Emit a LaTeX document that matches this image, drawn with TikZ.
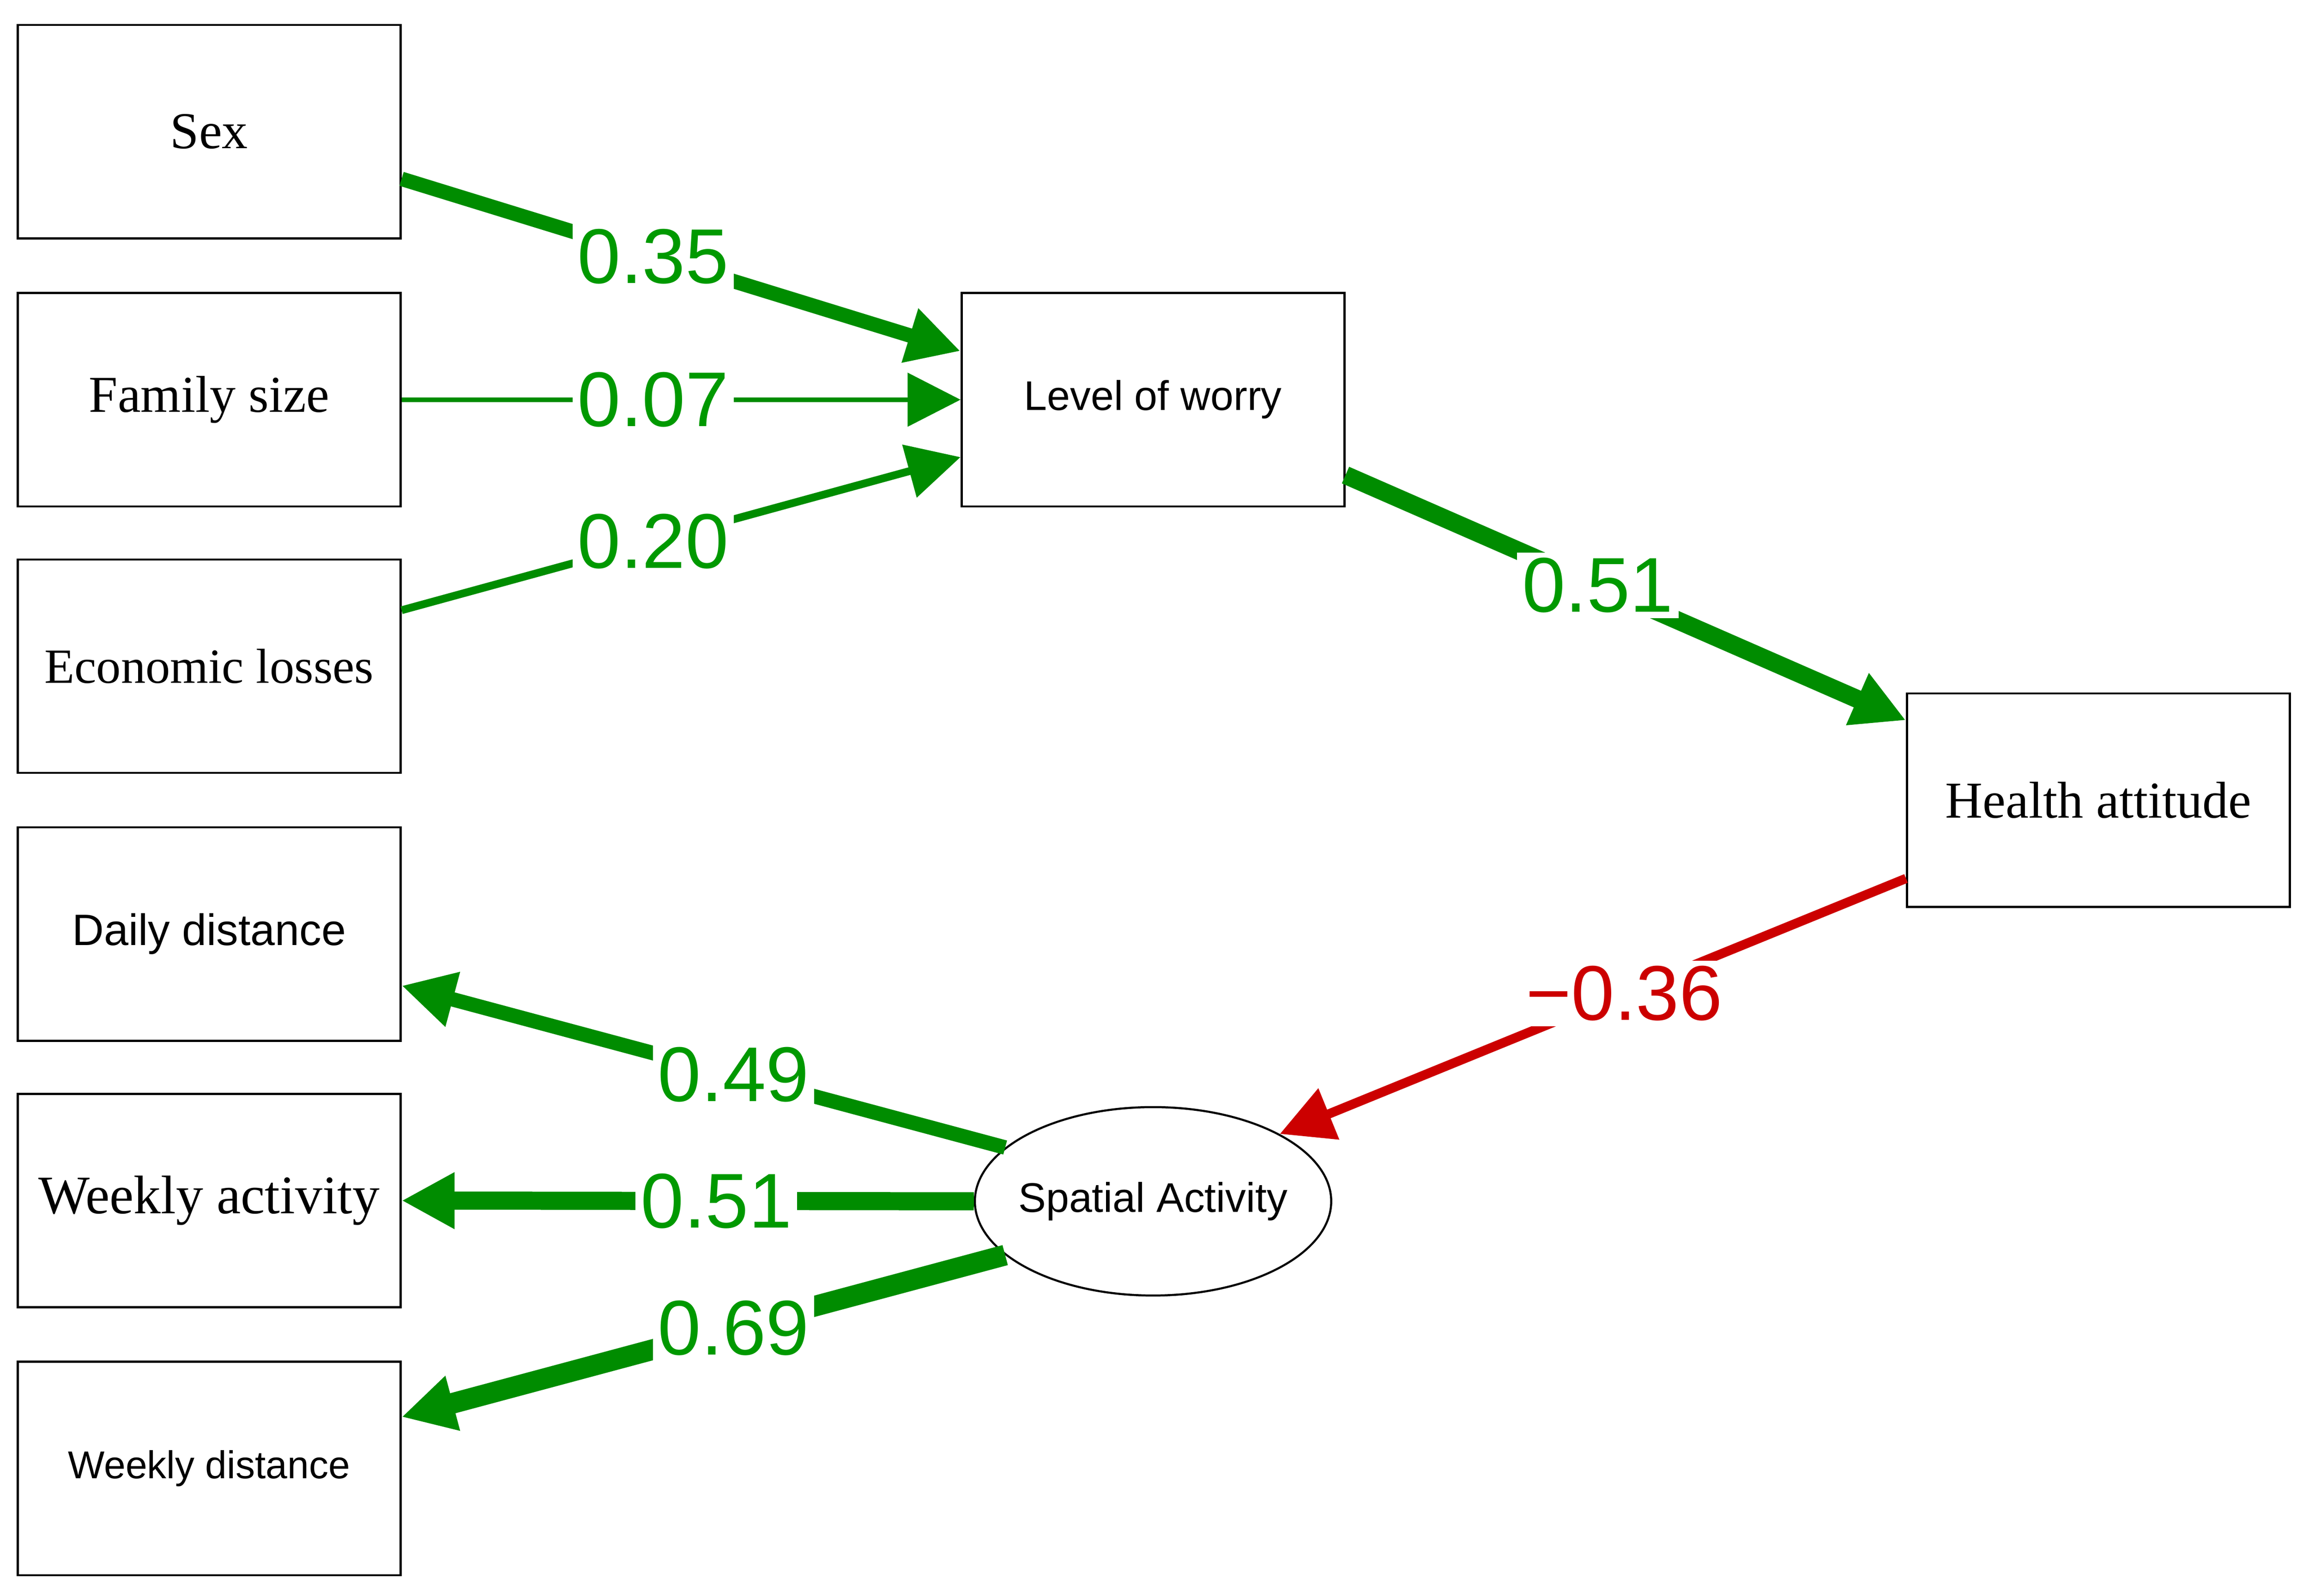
\documentclass[tikz,border=0pt]{standalone}
\usepackage{fontspec}
\setmainfont{Liberation Serif}
\setsansfont{Liberation Sans}
\usetikzlibrary{arrows.meta,shapes.geometric}
\tikzset{
  var/.style={draw,minimum width=2.6cm,minimum height=1.45cm,inner sep=1pt},
  path/.style={draw=green!55!black,-{Triangle[length=0.36cm,width=0.36cm]}},
  neg/.style={draw=red!80!black,-{Triangle[length=0.36cm,width=0.36cm]}},
  coef/.style={pos=0.45,fill=white,inner sep=1pt,text=green!60!black,font=\sffamily\fontsize{15}{17}\selectfont}
}
\begin{document}
\begin{tikzpicture}
    \useasboundingbox (0,0) rectangle (15.68,10.84);
    \node[var,font=\fontsize{10}{12}\selectfont] (SEX) at (1.42,9.945) {Sex};
    \node[var,font=\fontsize{10}{12}\selectfont] (FAM) at (1.42,8.125) {Family size};
    \node[var,font=\fontsize{9.5}{11}\selectfont] (ECO) at (1.42,6.315) {Economic losses};
    \node[var,font=\sffamily\fontsize{8.5}{10}\selectfont] (DAY) at (1.42,4.495) {Daily distance};
    \node[var,font=\fontsize{10.5}{12}\selectfont] (WACT) at (1.42,2.685) {Weekly activity};
    \node[var,font=\sffamily\fontsize{7.5}{9}\selectfont] (WDIST) at (1.42,0.865) {Weekly distance};
    \node[var,font=\sffamily\fontsize{8}{10}\selectfont] (WORRY) at (7.83,8.125) {Level of worry};
    \node[var,font=\fontsize{10}{12}\selectfont] (HEALTH) at (14.25,5.405) {Health attitude};
    \node[draw,ellipse,minimum width=2.42cm,minimum height=1.28cm,inner xsep=-8pt,inner ysep=0pt,font=\sffamily\fontsize{8}{10}\selectfont] (SPAT) at (7.83,2.68) {Spatial Activity};

    \draw[path,line width=2.8pt] ([yshift=-0.32cm]SEX.east) -- ([yshift=0.33cm]WORRY.west) node[coef] {0.35};
    \draw[path,line width=0.9pt] (FAM.east) -- (WORRY.west) node[coef] {0.07};
    \draw[path,line width=1.5pt] ([yshift=0.38cm]ECO.east) -- ([yshift=-0.39cm]WORRY.west) node[coef] {0.20};
    \draw[path,line width=3.5pt] ([yshift=0.22cm]WORRY.south east) -- ([yshift=-0.19cm]HEALTH.north west) node[coef] {0.51};
    \draw[neg,line width=1.8pt] ([yshift=0.2cm]HEALTH.south west) -- (SPAT.north east) node[coef,text=red!80!black] {−0.36};
    \draw[path,line width=2.8pt] (SPAT.160) -- ([yshift=-0.35cm]DAY.east) node[coef] {0.49};
    \draw[path,line width=3.5pt] (SPAT.west) -- (WACT.east) node[coef] {0.51};
    \draw[path,line width=4pt] (SPAT.200) -- ([yshift=0.35cm]WDIST.east) node[coef] {0.69};
\end{tikzpicture}
\end{document}
